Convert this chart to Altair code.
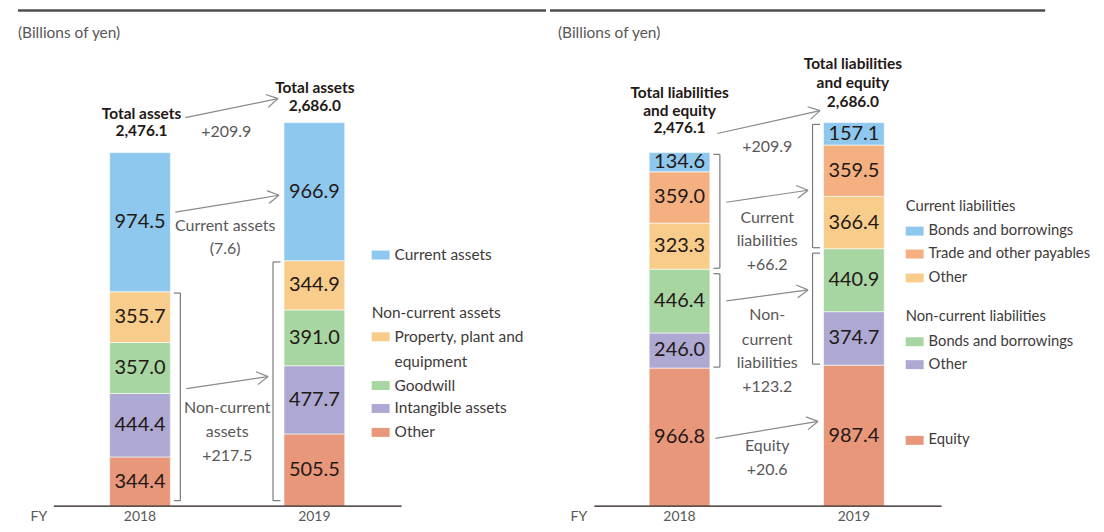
import math
import altair as alt
import pandas as pd

# ---------------- data ----------------
years = ["2018", "2019"]

# Assets, stacked bottom -> top
asset_keys = ["a_other", "a_intangible", "a_goodwill", "a_ppe", "a_current"]
asset_2018 = [344.4, 444.4, 357.0, 355.7, 974.5]
asset_2019 = [505.5, 477.7, 391.0, 344.9, 966.9]
asset_colors = ["#e8977b", "#ada9d3", "#a8d6a2", "#f8cd8c", "#8fc8ee"]
asset_totals = ["2,476.1", "2,686.0"]
asset_changes = ["+209.9", "(7.6)", "+217.5"]

# Liabilities and equity, stacked bottom -> top
liab_keys = ["l_equity", "l_nc_other", "l_nc_bonds", "l_c_other", "l_c_trade", "l_c_bonds"]
liab_2018 = [966.8, 246.0, 446.4, 323.3, 359.0, 134.6]
liab_2019 = [987.4, 374.7, 440.9, 366.4, 359.5, 157.1]
liab_colors = ["#e8977b", "#ada9d3", "#a8d6a2", "#f8cd8c", "#f4b080", "#8fc8ee"]
liab_totals = ["2,476.1", "2,686.0"]
liab_changes = ["+209.9", "+66.2", "+123.2", "+20.6"]

unit_label = "(Billions of yen)"
fy_label = "FY"

asset_legend = [
    ("item", "a_current", ["Current assets"]),
    ("head", None, ["Non-current assets"]),
    ("item", "a_ppe", ["Property, plant and", "equipment"]),
    ("item", "a_goodwill", ["Goodwill"]),
    ("item", "a_intangible", ["Intangible assets"]),
    ("item", "a_other", ["Other"]),
]
liab_legend = [
    ("head", None, ["Current liabilities"]),
    ("item", "l_c_bonds", ["Bonds and borrowings"]),
    ("item", "l_c_trade", ["Trade and other payables"]),
    ("item", "l_c_other", ["Other"]),
    ("head", None, ["Non-current liabilities"]),
    ("item", "l_nc_bonds", ["Bonds and borrowings"]),
    ("item", "l_nc_other", ["Other"]),
    ("item", "l_equity", ["Equity"]),
]

# ---------------- layout ----------------
K = 0.1433          # px per billion yen
BASE = 507          # page y of value 0
TOP, H = 8, 516     # page y of chart top, chart height
STEP = 175          # px between the two fiscal years
BAR_W = 61

F_REG = "Lato, Liberation Sans, sans-serif"
C_DARK = "#231815"
C_GRAY = "#595757"
C_LEG = "#3e3a39"
C_LINE = "#8a8a8a"


def yv(py):
    return (BASE - py) / K


def bar_frame(keys, series):
    rows = []
    for i, vals in enumerate(series):
        acc = 0.0
        for k, v in zip(keys, vals):
            rows.append(dict(idx=i, key=k, y0=acc, y1=acc + v, mid=acc + v / 2,
                             label=f"{v:.1f}",
                             xa=i - BAR_W / 2 / STEP, xb=i + BAR_W / 2 / STEP))
            acc += v
    return pd.DataFrame(rows)


def build_panel(start, width, c0, keys, colors, series, texts_bold, texts_gray,
                arrows, bracket_groups, legend, leg_x, leg_ys, leg_size,
                base_x, unit_x, fy_x, line_x):
    def xv(px):
        return (px - c0) / STEP

    xs = alt.Scale(domain=[xv(start), xv(start + width)], nice=False, zero=False)
    ys = alt.Scale(domain=[yv(TOP + H), yv(TOP)], nice=False, zero=False)
    cs = alt.Scale(domain=keys, range=colors)
    X = lambda f: alt.X(f, type="quantitative", scale=xs, axis=None)
    Y = lambda f: alt.Y(f, type="quantitative", scale=ys, axis=None)

    df = bar_frame(keys, series)
    bars = alt.Chart(df).mark_rect(stroke="white", strokeWidth=0.6).encode(
        x=X("xa"), x2="xb", y=Y("y0"), y2="y1",
        color=alt.Color("key:N", scale=cs, legend=None))
    vals = alt.Chart(df).mark_text(font=F_REG, fontSize=20, color=C_DARK,
                                   baseline="middle", align="center").encode(
        x=X("idx"), y=Y("mid"), text="label:N")

    # segments: arrows, brackets
    segs = []
    for (p0, p1) in arrows:
        (x0, y0), (x1, y1) = p0, p1
        L = math.hypot(x1 - x0, y1 - y0)
        ux, uy = (x1 - x0) / L, (y1 - y0) / L
        segs.append((x0, y0, x1, y1))
        for s in (1, -1):
            a = math.radians(30 * s)
            bx = -ux * math.cos(a) + uy * math.sin(a)
            by = -ux * math.sin(a) - uy * math.cos(a)
            segs.append((x1, y1, x1 + 13 * bx, y1 + 13 * by))
    aseg = pd.DataFrame([dict(x=xv(a), y=yv(b), x2=xv(c), y2=yv(d)) for a, b, c, d in segs])
    arrow_layer = alt.Chart(aseg).mark_rule(color=C_LINE, strokeWidth=1.2).encode(
        x=X("x"), y=Y("y"), x2="x2", y2="y2")

    bsegs = []
    for (lo, hi, tin, bin_) in bracket_groups:
        for i, vals_ in enumerate(series):
            v_lo = sum(vals_[:lo])
            v_hi = sum(vals_[:hi])
            py_top = BASE - v_hi * K + tin
            py_bot = BASE - v_lo * K - bin_
            if i == 0:
                vx = c0 + 40.5
                tx = vx - 6.5
            else:
                vx = c0 + STEP - 41.5
                tx = vx + 7.5
            bsegs += [(vx, py_top, vx, py_bot), (tx, py_top, vx, py_top), (tx, py_bot, vx, py_bot)]
    bdf = pd.DataFrame([dict(x=xv(a), y=yv(b), x2=xv(c), y2=yv(d)) for a, b, c, d in bsegs])
    brackets = alt.Chart(bdf).mark_rule(color="#7a7a7a", strokeWidth=1.2).encode(
        x=X("x"), y=Y("y"), x2="x2", y2="y2")

    # lines: baseline and top rule
    ldf = pd.DataFrame([dict(x=xv(base_x[0]), x2=xv(base_x[1]), y=0.0, y2=0.0)])
    baseline = alt.Chart(ldf).mark_rule(color=C_DARK, strokeWidth=1.3).encode(
        x=X("x"), x2="x2", y=Y("y"), y2="y2")
    tdf = pd.DataFrame([dict(x=xv(line_x[0]), x2=xv(line_x[1]), y=yv(9.5), y2=yv(9.5))])
    topline = alt.Chart(tdf).mark_rule(color="#4f4f4f", strokeWidth=2.5).encode(
        x=X("x"), x2="x2", y=Y("y"), y2="y2")

    def text_layer(rows, **kw):
        d = pd.DataFrame([dict(x=xv(a), y=yv(b), t=t) for a, b, t in rows])
        return alt.Chart(d).mark_text(baseline="middle", clip=True, **kw).encode(
            x=X("x"), y=Y("y"), text="t:N")

    bold = text_layer(texts_bold, font=F_REG, fontSize=15.5, fontWeight="bold",
                      color=C_DARK, align="center")
    gray = text_layer(texts_gray, font=F_REG, fontSize=16, color=C_GRAY, align="center")
    unit = text_layer([(unit_x, 32, unit_label)], font=F_REG, fontSize=15.5,
                      color=C_GRAY, align="left")
    yrs = text_layer([(c0 + i * STEP, 518, y) for i, y in enumerate(years)] + [(fy_x, 518, fy_label)],
                     font=F_REG, fontSize=14, color=C_GRAY, align="center")

    # legend
    sw, lt = [], []
    yi = iter(leg_ys)
    for kind, key, lines in legend:
        py = next(yi)
        if kind == "head":
            lt.append((leg_x, py, lines[0]))
        else:
            sw.append(dict(key=key, x=xv(leg_x), x2=xv(leg_x + 18), y=yv(py - 4.5), y2=yv(py + 4.5)))
            for j, ln in enumerate(lines):
                lt.append((leg_x + 23, py + 25 * j, ln))
    swatches = alt.Chart(pd.DataFrame(sw)).mark_rect().encode(
        x=X("x"), x2="x2", y=Y("y"), y2="y2",
        color=alt.Color("key:N", scale=cs, legend=None))
    legtext = text_layer(lt, font=F_REG, fontSize=leg_size, color=C_LEG, align="left")

    return alt.layer(topline, bars, vals, brackets, arrow_layer, baseline, bold, gray,
                     unit, yrs, swatches, legtext).properties(width=width, height=H)


left = build_panel(
    start=8, width=540, c0=140.5, keys=asset_keys, colors=asset_colors,
    series=[asset_2018, asset_2019],
    texts_bold=[(142, 113, "Total assets"), (142, 131, asset_totals[0]),
                (316, 87, "Total assets"), (316, 105, asset_totals[1])],
    texts_gray=[(227, 132, asset_changes[0]),
                (226, 226, "Current assets"), (226, 249, asset_changes[1]),
                (228, 409, "Non-current"), (228, 433, "assets"), (228, 457, asset_changes[2])],
    arrows=[((186, 117), (279, 98)), ((176, 212), (280, 195)), ((187, 389), (269, 377))],
    bracket_groups=[(0, 4, 1.3, 5.5)],
    legend=asset_legend, leg_x=373, leg_ys=[255, 313, 337, 386, 409, 433], leg_size=15.5,
    base_x=(54, 403), unit_x=18, fy_x=39, line_x=(18, 548),
)

right = build_panel(
    start=548, width=548, c0=678, keys=liab_keys, colors=liab_colors,
    series=[liab_2018, liab_2019],
    texts_bold=[(678, 92, "Total liabilities"), (678, 110, "and equity"), (678, 128, liab_totals[0]),
                (852, 63, "Total liabilities"), (852, 82, "and equity"), (852, 101, liab_totals[1])],
    texts_gray=[(766, 147, liab_changes[0]),
                (766, 218, "Current"), (766, 241, "liabilities"), (766, 265, liab_changes[1]),
                (766, 315, "Non-"), (766, 340, "current"), (766, 363, "liabilities"),
                (766, 387, liab_changes[2]),
                (766, 447, "Equity"), (766, 471, liab_changes[3])],
    arrows=[((716, 133), (819, 110)), ((725, 202), (807, 190)), ((725, 301), (807, 290)),
            ((714, 439), (817, 422))],
    bracket_groups=[(3, 6, 1.8, 1.0), (1, 3, 4.5, 1.0)],
    legend=liab_legend, leg_x=905, leg_ys=[207, 231, 254, 278, 317, 342, 365, 441], leg_size=14.8,
    base_x=(592.5, 941), unit_x=556, fy_x=577, line_x=(548, 1045),
)

chart = alt.hconcat(left, right, spacing=0).resolve_scale(
    color="independent", x="independent", y="independent").properties(padding=0).configure_view(
    stroke=None, strokeWidth=0)

chart.save("out.html", embed_options={"renderer": "svg", "actions": False})
